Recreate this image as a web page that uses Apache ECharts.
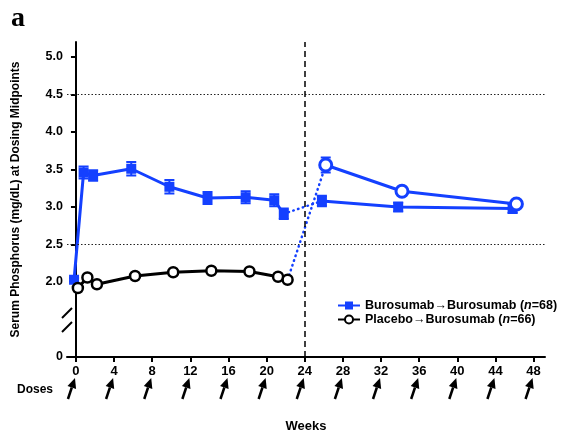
<!DOCTYPE html>
<html><head><meta charset="utf-8">
<script src="https://cdn.jsdelivr.net/npm/echarts@6/dist/echarts.min.js"></script>
<style>html,body{margin:0;padding:0;background:#fff}#c{width:561px;height:438px}</style>
</head><body><div id="c"></div>
<script>
// ---- data ----
const buroWeeksPre = [-0.2, 0.8, 1.8, 5.8, 9.8, 13.8, 17.8, 20.8, 21.8];
const buroPre      = [2.03, 3.46, 3.42, 3.51, 3.27, 3.12, 3.13, 3.09, 2.91];
const buroPreSE    = [0.02, 0.08, 0.07, 0.09, 0.09, 0.08, 0.08, 0.08, 0.07];
const buroWeeksPost = [25.8, 33.8, 45.8];
const buroPost      = [3.08, 3.00, 2.98];
const buroPostSE    = [0.07, 0.06, 0.06];
const placWeeksPre = [0.2, 1.2, 2.2, 6.2, 10.2, 14.2, 18.2, 21.2, 22.2];
const placPre      = [1.92, 2.06, 1.97, 2.08, 2.13, 2.15, 2.14, 2.07, 2.03];
const placWeeksPost = [26.2, 34.2, 46.2];
const placPost      = [3.56, 3.21, 3.04];
const placPostSE    = [0.10, 0.06, 0.04];
const seriesNames = ['Burosumab\u2192Burosumab', 'Placebo\u2192Burosumab'];
const seriesN = [68, 66];
const xTicks = [0, 4, 8, 12, 16, 20, 24, 28, 32, 36, 40, 44, 48];
const doseWeeks = [0, 4, 8, 12, 16, 20, 24, 28, 32, 36, 40, 44, 48];
const yTicks = [2.0, 2.5, 3.0, 3.5, 4.0, 4.5, 5.0];
const yBreakBase = 1.0;      // axis bottom, labelled "0" (broken axis)
const yBreakLabel = '0';
const refLinesY = [2.5, 4.5];
const switchWeek = 24;

// ---- chart ----
const BLUE = '#1440ff';
const FONT = '"Liberation Sans", Arial, Helvetica, sans-serif';
const zip = (a, b) => a.map((v, i) => [v, b[i]]);
const zip3 = (a, b, c) => a.map((v, i) => [v, b[i], c[i]]);

function errRender(color, capW, lw) {
  return function (params, api) {
    const x = api.value(0), y = api.value(1), e = api.value(2);
    const t = api.coord([x, y + e]), b = api.coord([x, y - e]);
    const st = { stroke: color, lineWidth: lw };
    return { type: 'group', children: [
      { type: 'line', shape: { x1: t[0], y1: t[1], x2: b[0], y2: b[1] }, style: st },
      { type: 'line', shape: { x1: t[0] - capW / 2, y1: t[1], x2: t[0] + capW / 2, y2: t[1] }, style: st },
      { type: 'line', shape: { x1: b[0] - capW / 2, y1: b[1], x2: b[0] + capW / 2, y2: b[1] }, style: st }
    ]};
  };
}

const chart = echarts.init(document.getElementById('c'), null, { renderer: 'canvas' });
const option = {
  animation: false,
  backgroundColor: '#fff',
  grid: { left: 67, right: 16, top: 42, bottom: 80, containLabel: false },
  legend: {
    data: seriesNames,
    orient: 'vertical',
    left: 337, top: 299, padding: 0,
    itemWidth: 22, itemHeight: 10, itemGap: 1,
    textStyle: {
      fontFamily: FONT, fontWeight: 'bold', fontSize: 12.5, color: '#000', lineHeight: 13,
      rich: {
        a: { fontFamily: FONT, fontWeight: 'bold', fontSize: 12.5, color: '#000', lineHeight: 13 },
        i: { fontFamily: FONT, fontWeight: 'bold', fontStyle: 'italic', fontSize: 12.5, color: '#000', lineHeight: 13 }
      }
    },
    formatter: function (name) {
      const n = seriesN[seriesNames.indexOf(name)];
      return '{a|' + name + ' (}{i|n}{a|=' + n + ')}';
    }
  },
  xAxis: {
    type: 'value', min: -0.94, max: 49.2,
    name: 'Weeks', nameLocation: 'middle', nameGap: 63,
    nameTextStyle: { fontFamily: FONT, fontWeight: 'bold', fontSize: 13, color: '#000' },
    axisLine: { show: true, lineStyle: { color: '#000', width: 2 } },
    axisTick: { show: true, length: 5, lineStyle: { color: '#000', width: 2 }, customValues: xTicks },
    axisLabel: { margin: 8, fontFamily: FONT, fontWeight: 'bold', fontSize: 13, color: '#000', customValues: xTicks },
    splitLine: { show: false }
  },
  yAxis: {
    type: 'value', min: yBreakBase, max: 5.2,
    name: 'Serum Phosphorus (mg/dL) at Dosing Midpoints', nameLocation: 'middle', nameGap: 45,
    nameTextStyle: { fontFamily: FONT, fontWeight: 'bold', fontSize: 12, color: '#000' },
    axisLine: { show: true, lineStyle: { color: '#000', width: 2 } },
    axisTick: { show: true, length: 5, lineStyle: { color: '#000', width: 2 }, customValues: [yBreakBase].concat(yTicks) },
    axisLabel: {
      margin: 4, fontFamily: FONT, fontWeight: 'bold', fontSize: 12.5, color: '#000',
      customValues: [yBreakBase].concat(yTicks),
      formatter: v => (Math.abs(v - yBreakBase) < 1e-9 ? yBreakLabel : v.toFixed(1))
    },
    splitLine: { show: false }
  },
  series: [
    { name: 'refs', type: 'line', data: [], silent: true,
      markLine: { silent: true, symbol: 'none', label: { show: false },
        data: refLinesY.map(v => ({ yAxis: v, lineStyle: { color: '#222', width: 1, type: [1.5, 2] } }))
          .concat([{ xAxis: switchWeek, lineStyle: { color: '#000', width: 1.5, type: [6, 4] } }]) } },
    { name: 'bridgeB', type: 'line', z: 1, symbol: 'none',
      data: [[buroWeeksPre[buroWeeksPre.length - 1], buroPre[buroPre.length - 1]], [buroWeeksPost[0], buroPost[0]]],
      lineStyle: { color: BLUE, width: 2.5, type: [0.5, 4.5], cap: 'round' } },
    { name: 'bridgeP', type: 'line', z: 1, symbol: 'none',
      data: [[placWeeksPre[placWeeksPre.length - 1], placPre[placPre.length - 1]], [placWeeksPost[0], placPost[0]]],
      lineStyle: { color: BLUE, width: 2.5, type: [0.5, 4.5], cap: 'round' } },
    { name: 'errB', type: 'custom', z: 2, renderItem: errRender(BLUE, 10, 2),
      data: zip3(buroWeeksPre, buroPre, buroPreSE).concat(zip3(buroWeeksPost, buroPost, buroPostSE)) },
    { name: 'errP', type: 'custom', z: 2, renderItem: errRender(BLUE, 10, 2),
      data: zip3(placWeeksPost, placPost, placPostSE) },
    { name: seriesNames[0], type: 'line', z: 3, data: zip(buroWeeksPre, buroPre),
      symbol: 'rect', symbolSize: 10, itemStyle: { color: BLUE }, lineStyle: { color: BLUE, width: 3 } },
    { name: 'buroPost', type: 'line', z: 3, data: zip(buroWeeksPost, buroPost),
      symbol: 'rect', symbolSize: 10, itemStyle: { color: BLUE }, lineStyle: { color: BLUE, width: 3 } },
    { name: seriesNames[1], type: 'line', z: 3, data: zip(placWeeksPre, placPre),
      symbol: 'circle', symbolSize: 10, showAllSymbol: true,
      itemStyle: { color: '#fff', borderColor: '#000', borderWidth: 2.5 }, lineStyle: { color: '#000', width: 3 } },
    { name: 'placPost', type: 'line', z: 3, data: zip(placWeeksPost, placPost),
      symbol: 'circle', symbolSize: 12,
      itemStyle: { color: '#fff', borderColor: BLUE, borderWidth: 3 }, lineStyle: { color: BLUE, width: 3 } }
  ]
};
chart.setOption(option);

// decorations: panel letter, Doses label, dose arrows, axis break
const g = [];
g.push({ type: 'text', left: 11, top: 5, style: { text: 'a', font: 'bold 28px "Liberation Serif", "Times New Roman", serif', fill: '#000' } });
const y0 = chart.convertToPixel({ yAxisIndex: 0 }, yBreakBase);
g.push({ type: 'text', x: 17, y: 390, style: { text: 'Doses', font: 'bold 12px ' + FONT, fill: '#000', verticalAlign: 'middle' } });
doseWeeks.forEach(w => {
  const px = chart.convertToPixel({ xAxisIndex: 0 }, w);
  const tip = [px - 1, y0 + 21], tail = [px - 8, y0 + 42];
  const dx = tip[0] - tail[0], dy = tip[1] - tail[1], L = Math.hypot(dx, dy);
  const ux = dx / L, uy = dy / L, nx = -uy, ny = ux, hl = 10, hw = 4.5;
  const base = [tip[0] - ux * hl, tip[1] - uy * hl];
  g.push({ type: 'line', shape: { x1: tail[0], y1: tail[1], x2: base[0], y2: base[1] }, style: { stroke: '#000', lineWidth: 2.5 } });
  g.push({ type: 'polygon', shape: { points: [tip, [base[0] + nx * hw, base[1] + ny * hw], [base[0] - nx * hw, base[1] - ny * hw]] }, style: { fill: '#000' } });
});
const ax = chart.convertToPixel({ xAxisIndex: 0 }, -0.94);
const gTop = y0 - 44, gBot = y0 - 30;
g.push({ type: 'rect', shape: { x: ax - 3, y: gTop, width: 6, height: gBot - gTop }, style: { fill: '#fff' }, z: 100 });
g.push({ type: 'line', shape: { x1: ax - 5, y1: gTop + 5, x2: ax + 5, y2: gTop - 5 }, style: { stroke: '#000', lineWidth: 2 }, z: 101 });
g.push({ type: 'line', shape: { x1: ax - 5, y1: gBot + 5, x2: ax + 5, y2: gBot - 5 }, style: { stroke: '#000', lineWidth: 2 }, z: 101 });
chart.setOption({ graphic: g });
</script>
</body></html>
